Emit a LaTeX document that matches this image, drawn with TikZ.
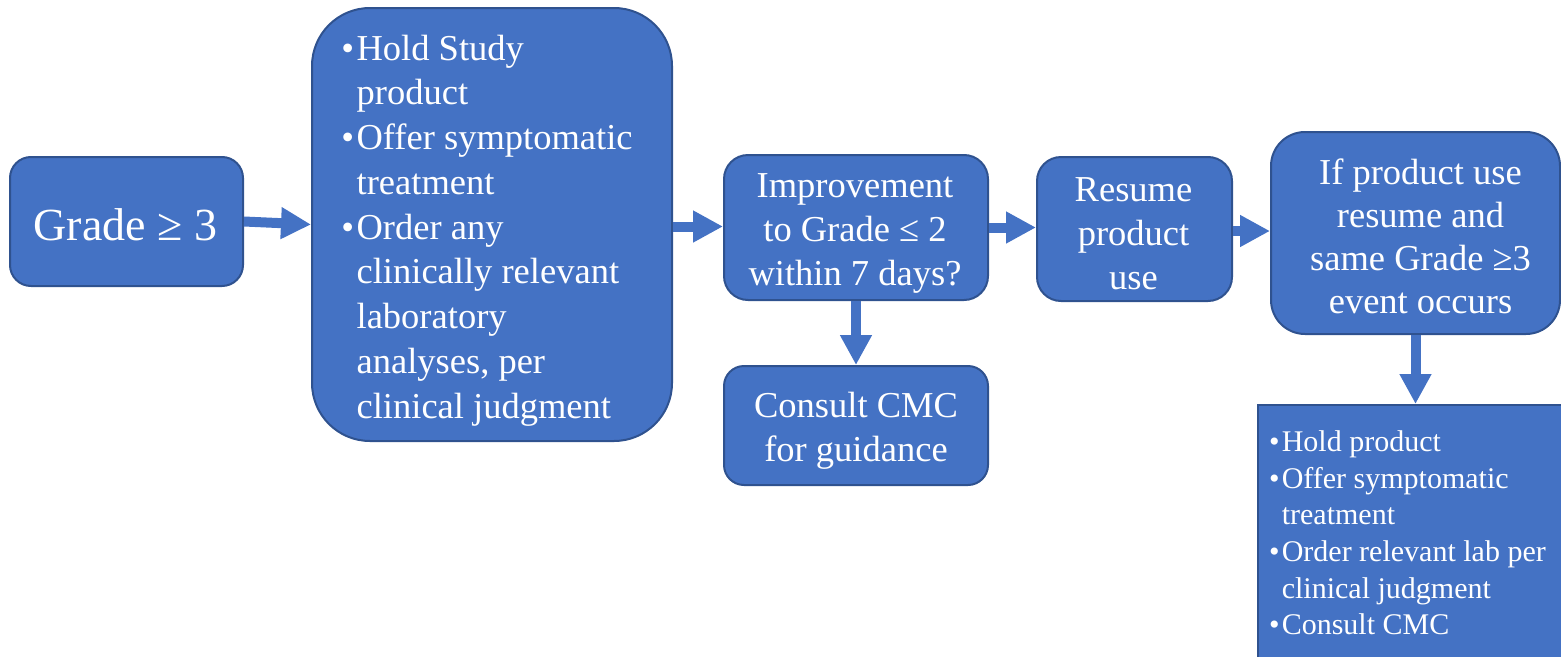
\documentclass[tikz,border=0pt]{standalone}
\usepackage{fontspec}
\setmainfont{Liberation Serif}
\usetikzlibrary{arrows.meta}
\definecolor{boxfill}{HTML}{4472C4}
\definecolor{boxedge}{HTML}{2F528F}
% bullet and matching indent for list lines
\newcommand\bulmark{\makebox[0.42em][l]{•}}
\newcommand\bulgap{\hspace*{0.42em}}
\begin{document}
\begin{tikzpicture}[x=1pt,y=-1pt,
  card/.style={draw=boxedge, fill=boxfill, line width=2pt, inner sep=0pt},
  cardtext/.style={text=white, align=center, inner sep=0pt,
    font=\fontsize{36.5}{44}\selectfont},
  flow/.style={draw=boxfill, line width=10pt,
    -{Triangle[length=30pt,width=30pt]}},
]
\useasboundingbox (0,0) rectangle (1561,656);

% process boxes
\node[card, minimum width=233pt, minimum height=129pt, rounded corners=21pt]
  (grade) at (126.5,221.5) {};
\node[cardtext, font=\fontsize{46}{55}\selectfont] (grade-t)
  at ([shift={(-1pt,-3pt)}]grade.center) {Grade ≥ 3};

\node[card, minimum width=360pt, minimum height=433pt, rounded corners=58pt]
  (hold) at (492,224.5) {};
\node[cardtext, align=left, font=\fontsize{36.5}{44.75}\selectfont] (hold-t)
  at ([shift={(-5pt,-6pt)}]hold.center)
  {\bulmark Hold Study\\ \bulgap product\\
   \bulmark Offer symptomatic\\ \bulgap treatment\\
   \bulmark Order any\\ \bulgap clinically relevant\\
   \bulgap laboratory\\ \bulgap analyses, per\\ \bulgap clinical judgment};

\node[card, minimum width=264pt, minimum height=145pt, rounded corners=24pt]
  (improve) at (856,227.5) {};
\node[cardtext] (improve-t) at ([shift={(-1pt,-5.5pt)}]improve.center)
  {Improvement\\to Grade ≤ 2\\within 7 days?};

\node[card, minimum width=264pt, minimum height=119pt, rounded corners=20pt]
  (consult) at (856,425.5) {};
\node[cardtext] (consult-t) at ([shift={(0pt,-5.5pt)}]consult.center)
  {Consult CMC\\for guidance};

\node[card, minimum width=195pt, minimum height=144pt, rounded corners=24pt]
  (resume) at (1134.5,229) {};
\node[cardtext] (resume-t) at ([shift={(-1pt,-5pt)}]resume.center)
  {Resume\\product\\use};

\node[card, minimum width=289pt, minimum height=202pt, rounded corners=34pt]
  (again) at (1415.5,233) {};
\node[cardtext, font=\fontsize{36.5}{43}\selectfont] (again-t)
  at ([shift={(5pt,-3pt)}]again.center)
  {If product use\\resume and\\same Grade ≥3\\event occurs};

\node[card, anchor=north west, minimum width=314pt, minimum height=256pt]
  (repeat) at (1257,404) {};
\node[cardtext, anchor=west, align=left, font=\fontsize{30}{36.6}\selectfont]
  (repeat-t) at ([xshift=12pt]repeat.west)
  {\bulmark Hold product\\
   \bulmark Offer symptomatic\\ \bulgap treatment\\
   \bulmark Order relevant lab per\\ \bulgap clinical judgment\\
   \bulmark Consult CMC};

% block arrows between the steps
\draw[flow] (grade.east) -- (hold.west);
\draw[flow] ([yshift=1pt]hold.east |- improve.west) -- ([yshift=1pt]improve.west);
\draw[flow] (improve.south) -- (consult.north);
\draw[flow] (improve.east) -- (improve.east -| resume.west);
\draw[flow] ([yshift=-2pt]resume.east) -- ([yshift=-2pt]resume.east -| again.west);
\draw[flow] (again.south) -- (again.south |- repeat.north);
\end{tikzpicture}
\end{document}
